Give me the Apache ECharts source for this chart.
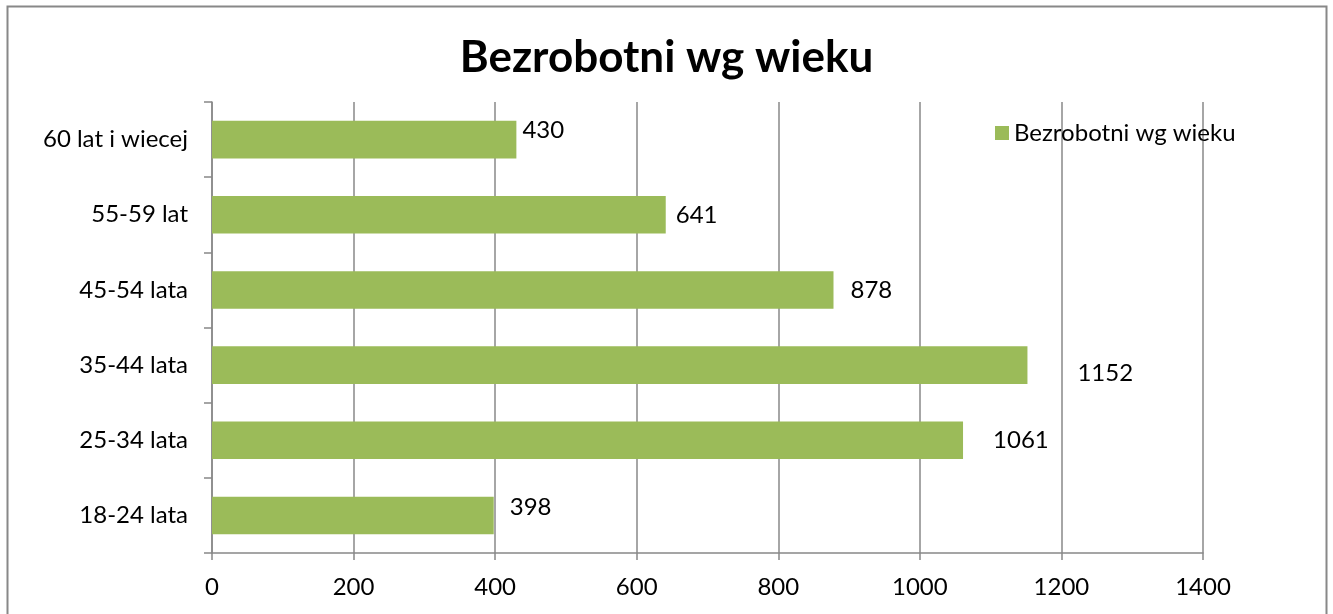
<!DOCTYPE html>
<html>
<head>
<meta charset="utf-8">
<title>Bezrobotni wg wieku</title>
<script src="https://cdn.jsdelivr.net/npm/echarts@6/dist/echarts.min.js"></script>
<style>
  html, body { margin: 0; padding: 0; background: #fff; }
  #chart { width: 1333px; height: 614px; }
</style>
</head>
<body>
<div id="chart"></div>
<script>
// dane
var ageGroups = ['18-24 lata', '25-34 lata', '35-44 lata', '45-54 lata', '55-59 lat', '60 lat i wiecej'];
var unemployed = [398, 1061, 1152, 878, 641, 430];
var seriesName = 'Bezrobotni wg wieku';

var FONT = 'Lato, "Open Sans", sans-serif';
var GREEN = '#9BBB59';
var GRAY = '#888888';

// przesuniecia etykiet jak w oryginale (Excel rozklada je troche nierowno)
var labelShift = [[10, -8], [24, 0], [44, 8], [11, 0], [4, 1], [0, -9]];

var myChart = echarts.init(document.getElementById('chart'));

var option = {
  animation: false,
  backgroundColor: '#fff',
  title: {
    text: 'Bezrobotni wg wieku',
    left: 'center',
    top: 31,
    textStyle: {
      fontFamily: FONT,
      fontSize: 44,
      fontWeight: 'bold',
      color: '#000'
    }
  },
  legend: {
    left: 990,
    top: 116,
    icon: 'rect',
    itemWidth: 14,
    itemHeight: 14,
    itemGap: 8,
    textStyle: { fontFamily: FONT, fontSize: 24, color: '#000' },
    data: [seriesName]
  },
  grid: {
    left: 212,
    right: 130,
    top: 102,
    bottom: 61
  },
  xAxis: {
    type: 'value',
    min: 0,
    max: 1400,
    interval: 200,
    axisLine: { show: true, lineStyle: { color: GRAY, width: 1.5 } },
    axisTick: { show: true, length: 7, lineStyle: { color: GRAY, width: 1.5 } },
    splitLine: { show: true, lineStyle: { color: GRAY, width: 1.5 } },
    axisLabel: {
      margin: 22,
      fontFamily: FONT,
      fontSize: 24,
      color: '#000',
      formatter: function (v) { return String(v); }
    }
  },
  yAxis: {
    type: 'category',
    data: ageGroups,
    axisLine: { show: true, lineStyle: { color: GRAY, width: 1.5 } },
    axisTick: { show: true, length: 8, lineStyle: { color: GRAY, width: 1.5 } },
    axisLabel: { margin: 24, fontFamily: FONT, fontSize: 24, color: '#000' }
  },
  series: [{
    name: seriesName,
    type: 'bar',
    barWidth: '50%',
    itemStyle: { color: GREEN },
    data: unemployed.map(function (v, i) {
      return {
        value: v,
        label: { offset: labelShift[i] }
      };
    }),
    label: {
      show: true,
      position: 'right',
      distance: 6,
      fontFamily: FONT,
      fontSize: 24,
      color: '#000'
    }
  }],
  graphic: [{
    type: 'rect',
    shape: { x: 7.5, y: 6.5, width: 1319, height: 640 },
    style: { fill: 'none', stroke: GRAY, lineWidth: 2 },
    silent: true,
    z: 100
  }]
};

option && myChart.setOption(option);
window.addEventListener('resize', function () {
  myChart.resize();
});
</script>
</body>
</html>
